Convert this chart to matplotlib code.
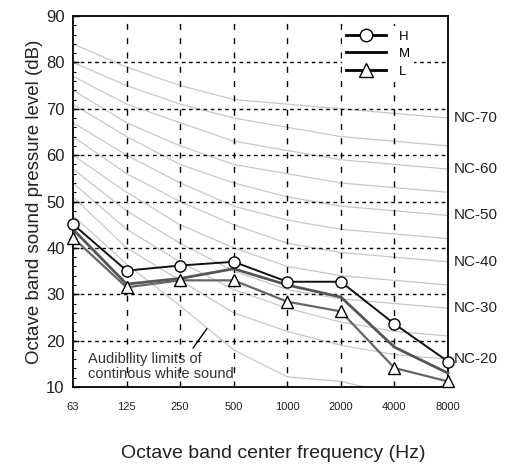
import numpy as np
import matplotlib.pyplot as plt
from matplotlib.lines import Line2D

plt.rcParams['font.family'] = ['Liberation Sans', 'DejaVu Sans']

freqs = ['63', '125', '250', '500', '1000', '2000', '4000', '8000']

# measured spectra
h_vals = [45.1, 35.1, 36.2, 37.0, 32.7, 32.7, 23.6, 15.5]
m_vals = [44.0, 32.2, 33.4, 35.5, 32.0, 29.4, 18.6, 13.0]
l_vals = [42.2, 31.5, 33.0, 33.0, 28.4, 26.3, 14.1, 11.2]

# NC curves
nc_names = [20, 25, 30, 35, 40, 45, 50, 55, 60, 65, 70]
nc_vals = [
    [51, 40, 33, 26, 22, 19, 17, 16],
    [54, 44, 37, 31, 27, 24, 22, 21],
    [57, 48, 41, 35, 31, 29, 28, 27],
    [60, 52, 45, 40, 36, 34, 33, 32],
    [64, 56, 50, 45, 41, 39, 38, 37],
    [67, 60, 54, 49, 46, 44, 43, 42],
    [71, 64, 58, 54, 51, 49, 48, 47],
    [74, 67, 62, 58, 56, 54, 53, 52],
    [77, 71, 67, 63, 61, 59, 58, 57],
    [80, 75, 71, 68, 66, 64, 63, 62],
    [84, 79, 75, 72, 71, 70, 69, 68],
]
aud_vals = [47, 36.5, 27.5, 18.0, 12.2, 11.2, 8.5, 9.0]

x = np.arange(len(freqs))

fig = plt.figure(figsize=(5.08, 4.66), dpi=100)
ax = fig.add_axes([0.1437, 0.1695, 0.7382, 0.7961])

for vals in nc_vals:
    ax.plot(x, vals, color='#c8c8c8', lw=0.9, zorder=1)
ax.plot(x, aud_vals, color='#c8c8c8', lw=0.9, zorder=1)

# grid
for xi in x[1:-1]:
    ax.axvline(xi, color='black', lw=1.0, ls=(0, (4.3, 6.0)), zorder=2)
for yi in range(20, 90, 10):
    ax.axhline(yi, color='black', lw=1.0, ls=(0, (2.6, 2.6)), zorder=2)

ax.plot(x, m_vals, color='#555555', lw=2.0, zorder=3, clip_on=False)
ax.plot(x, l_vals, color='#666666', lw=1.6, marker='^', ms=9,
        mfc='white', mec='black', mew=1.0, zorder=4, clip_on=False)
ax.plot(x, h_vals, color='#111111', lw=1.4, marker='o', ms=8,
        mfc='white', mec='black', mew=1.0, zorder=5, clip_on=False)

ax.set_xlim(0, 7)
ax.set_ylim(10, 90)
ax.set_xticks(x)
ax.set_xticklabels(freqs, fontsize=8, color='#222222')
ax.set_yticks(range(10, 91, 10))
ax.set_yticks(range(10, 91, 2), minor=True)
ax.tick_params(axis='y', which='major', direction='in', length=4, width=1,
               labelsize=12, labelcolor='#222222', pad=6)
ax.tick_params(axis='y', which='minor', direction='in', length=2.5, width=0.8)
ax.tick_params(axis='x', length=0, pad=11)
for sp in ax.spines.values():
    sp.set_linewidth(1.3)

ax.set_ylabel('Octave band sound pressure level (dB)', fontsize=13.5,
              color='#222222', labelpad=2)
fig.text(0.537, 0.026, 'Octave band center frequency (Hz)', fontsize=14,
         color='#222222', ha='center', va='center')

for n, vals in zip(nc_names, nc_vals):
    if n % 10 == 0:
        ax.text(7.1, vals[-1], 'NC-%d' % n, fontsize=11, color='#222222',
                va='center', ha='left', clip_on=False)

ax.text(0.28, 11.3, 'Audibility limits of\ncontinous white sound', fontsize=10.5,
        color='#333333', va='bottom', ha='left', linespacing=1.05)
ax.annotate('', xy=(2.5, 22.6), xytext=(2.24, 18.4),
            arrowprops=dict(arrowstyle='-', color='black', lw=1.0,
                            shrinkA=0, shrinkB=0))

handles = [
    Line2D([], [], color='black', lw=2, marker='o', ms=9, mfc='white', mec='black'),
    Line2D([], [], color='black', lw=2),
    Line2D([], [], color='black', lw=2, marker='^', ms=10, mfc='white', mec='black'),
]
leg = ax.legend(handles, ['H', 'M', 'L'], loc='upper right',
                bbox_to_anchor=(0.918, 0.981), borderaxespad=0.25, borderpad=0.3,
                frameon=True, fancybox=False, edgecolor='none', facecolor='white',
                framealpha=1.0, fontsize=9.5, handlelength=3.0,
                labelspacing=0.4, handletextpad=1.0)
leg.set_zorder(6)

fig.savefig('out.png', dpi=100)
